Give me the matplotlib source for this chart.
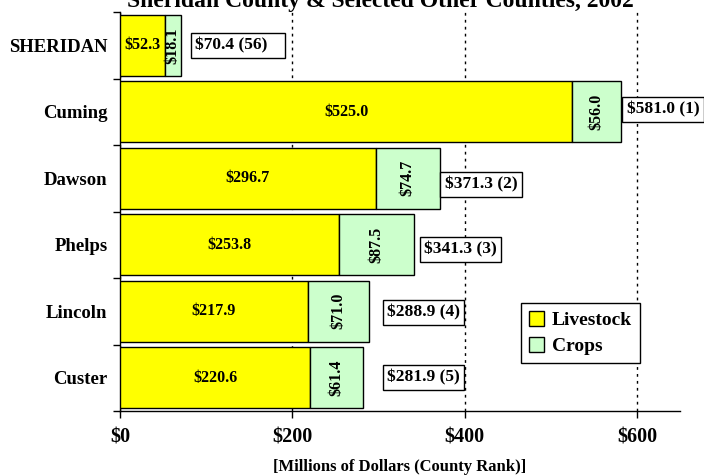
import matplotlib
matplotlib.use("Agg")
import matplotlib.pyplot as plt
import numpy as np

counties = ["SHERIDAN", "Cuming", "Dawson", "Phelps", "Lincoln", "Custer"]
livestock = [52.3, 525.0, 296.7, 253.8, 217.9, 220.6]
crops = [18.1, 56.0, 74.7, 87.5, 71.0, 61.4]
totals = [70.4, 581.0, 371.3, 341.3, 288.9, 281.9]
ranks = [56, 1, 2, 3, 4, 5]
xticks = [0, 200, 400, 600]
xticklabels = ["$0", "$200", "$400", "$600"]

# label box left positions (layout)
box_x = [84, 585, 374, 350, 307, 307]
box_dy = [0, -0.03, 0.09, 0.07, 0.02, 0.0]
box_pad = ["\u00a0\u00a0\u00a0", "", "", "", "", ""]

plt.rcParams['font.family'] = ['Liberation Serif', 'DejaVu Serif']
plt.rcParams['font.weight'] = 'bold'

fig = plt.figure(figsize=(7.04, 4.76), dpi=100)
ax = fig.add_axes([120/704, 1-411/476, 560/704, 399/476])

y = np.arange(len(counties))
h = 0.92
ax.barh(y, livestock, height=h, color="#FFFF00", edgecolor="black", linewidth=1, label="Livestock", zorder=3)
ax.barh(y, crops, left=livestock, height=h, color="#CCFFCC", edgecolor="black", linewidth=1, label="Crops", zorder=3)

for i in range(len(counties)):
    ax.text(livestock[i]/2, y[i], f"${livestock[i]:.1f}", ha="center", va="center",
            fontsize=11.5, fontweight="bold", zorder=4)
    ax.text(livestock[i] + crops[i]/2, y[i], f"${crops[i]:.1f}", ha="center", va="center",
            rotation=90, fontsize=11.5, fontweight="bold", zorder=4)
    ax.text(box_x[i] + 3, y[i] + box_dy[i], f"${totals[i]:.1f} ({ranks[i]})" + box_pad[i],
            ha="left", va="center", fontsize=12.5, fontweight="bold", zorder=5,
            bbox=dict(boxstyle="square,pad=0.25", facecolor="white", edgecolor="black", linewidth=1))

ax.set_ylim(len(counties) - 0.5, -0.5)
ax.set_xlim(0, 650)
ax.set_yticks(y)
ax.set_yticklabels(counties, fontsize=13.5, fontweight="bold")
ax.tick_params(axis="y", which="major", length=0, pad=9)
ax.set_yticks(np.arange(len(counties) + 1) - 0.5, minor=True)
ax.tick_params(axis="y", which="minor", length=5, direction="out", width=1)

ax.set_xticks(xticks)
ax.set_xticklabels(xticklabels, fontsize=14.5, fontweight="bold")
ax.tick_params(axis="x", length=5, direction="out", width=1, pad=7)
ax.xaxis.grid(True, linestyle=(0, (2, 3)), color="black", linewidth=1, zorder=0)
ax.set_axisbelow(True)

for s in ["top", "right"]:
    ax.spines[s].set_visible(False)
ax.spines["left"].set_linewidth(1)
ax.spines["bottom"].set_linewidth(1)

ax.set_xlabel("[Millions of Dollars (County Rank)]", fontsize=12, fontweight="bold", labelpad=8)

leg = ax.legend(loc="upper left", bbox_to_anchor=(0.716, 0.27), borderaxespad=0,
                fancybox=False, edgecolor="black", framealpha=1,
                prop={"size": 14, "weight": "bold"}, handlelength=0.8, handleheight=0.8,
                handletextpad=0.4, labelspacing=0.4, borderpad=0.4)
leg.get_frame().set_linewidth(1)

fig.text(380/704, 1 - 7/476, "Sheridan County & Selected Other Counties, 2002",
         ha="center", va="baseline", fontsize=17, fontweight="bold")

fig.savefig("out.png", dpi=100)
